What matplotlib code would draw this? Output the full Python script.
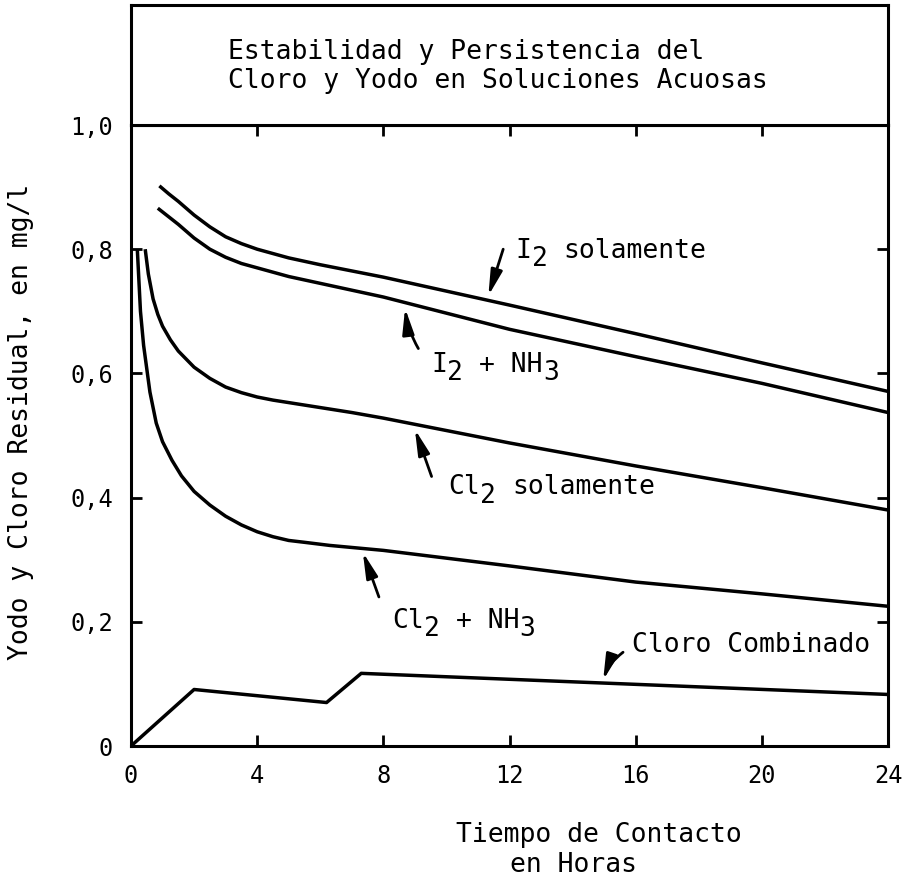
import matplotlib
matplotlib.use("Agg")
import matplotlib.pyplot as plt

plt.rcParams['font.family'] = ['DejaVu Sans Mono', 'DejaVu Sans']

# ---- data ----
i2_sol_x = [0.9, 1.2, 1.5, 2.0, 2.5, 3.0, 3.5, 4.0, 5.0, 6.0, 7.0, 8.0, 12.0, 16.0, 20.0, 24.0]
i2_sol_y = [0.902, 0.889, 0.877, 0.855, 0.836, 0.820, 0.809, 0.800, 0.786, 0.775, 0.765, 0.755,
            0.710, 0.664, 0.617, 0.571]

i2_nh3_x = [0.85, 1.2, 1.5, 2.0, 2.5, 3.0, 3.5, 4.0, 5.0, 6.0, 7.0, 8.0, 12.0, 16.0, 20.0, 24.0]
i2_nh3_y = [0.866, 0.852, 0.840, 0.818, 0.800, 0.787, 0.777, 0.770, 0.756, 0.745, 0.734, 0.723,
            0.671, 0.627, 0.584, 0.537]

cl2_sol_x = [0.45, 0.55, 0.7, 0.85, 1.0, 1.25, 1.5, 2.0, 2.5, 3.0, 3.5, 4.0, 4.5, 5.0, 6.0, 7.0,
             8.0, 12.0, 16.0, 20.0, 24.0]
cl2_sol_y = [0.800, 0.760, 0.720, 0.695, 0.676, 0.654, 0.636, 0.610, 0.592, 0.578, 0.569, 0.562,
             0.557, 0.553, 0.545, 0.537, 0.528, 0.488, 0.451, 0.416, 0.380]

cl2_nh3_x = [0.2, 0.3, 0.4, 0.6, 0.8, 1.0, 1.3, 1.6, 2.0, 2.5, 3.0, 3.5, 4.0, 4.5, 5.0, 5.5, 6.3,
             8.0, 12.0, 16.0, 20.0, 24.0]
cl2_nh3_y = [0.800, 0.700, 0.645, 0.570, 0.520, 0.490, 0.460, 0.435, 0.410, 0.388, 0.370, 0.356,
             0.345, 0.337, 0.331, 0.328, 0.323, 0.315, 0.290, 0.264, 0.245, 0.225]

comb_x = [0.0, 2.0, 6.2, 7.3, 24.0]
comb_y = [0.0, 0.091, 0.070, 0.117, 0.083]

x_ticks = [0, 4, 8, 12, 16, 20, 24]
x_ticklabels = ['0', '4', '8', '12', '16', '20', '24']
y_ticks = [0, 0.2, 0.4, 0.6, 0.8, 1.0]
y_ticklabels = ['0', '0,2', '0,4', '0,6', '0,8', '1,0']

title_lines = ['Estabilidad y Persistencia del', 'Cloro y Yodo en Soluciones Acuosas']
ylabel = 'Yodo y Cloro Residual, en mg/l'
xlabel_lines = ['Tiempo de Contacto', 'en Horas']

FS = 19
MONO_ADV = 0.602

fig = plt.figure(figsize=(9.02, 8.77), dpi=100)
W, H = 902.0, 877.0
L, R, T1, B = 131, 888, 125, 746
ax = fig.add_axes([L / W, (H - B) / H, (R - L) / W, (B - T1) / H])
tax = fig.add_axes([L / W, (H - T1) / H, (R - L) / W, (T1 - 5) / H])

lw = 2.5
for xs, ys in [(i2_sol_x, i2_sol_y), (i2_nh3_x, i2_nh3_y), (cl2_sol_x, cl2_sol_y),
               (cl2_nh3_x, cl2_nh3_y), (comb_x, comb_y)]:
    ax.plot(xs, ys, color='black', lw=lw, solid_joinstyle='round', solid_capstyle='butt')

ax.set_xlim(0, 24)
ax.set_ylim(0, 1.0)
ax.set_xticks(x_ticks)
ax.set_xticklabels(x_ticklabels)
ax.set_yticks(y_ticks)
ax.set_yticklabels(y_ticklabels)
ax.tick_params(direction='in', length=8, width=2, top=True, right=True,
               labelsize=17, pad=13, labeltop=False, labelright=False)
for s in ax.spines.values():
    s.set_linewidth(2.2)

tax.set_xticks([])
tax.set_yticks([])
for s in tax.spines.values():
    s.set_linewidth(2.2)

# title inside the box
tx = (228 - L) / (R - L)
tax.text(tx, (T1 - 59) / (T1 - 5), title_lines[0], transform=tax.transAxes,
         ha='left', va='baseline', fontsize=FS)
tax.text(tx, (T1 - 88) / (T1 - 5), title_lines[1], transform=tax.transAxes,
         ha='left', va='baseline', fontsize=FS)

fig.text(21 / W, (H - 422) / H, ylabel, rotation=90, ha='center', va='center', fontsize=FS)
fig.text(456 / W, (H - 842) / H, xlabel_lines[0], ha='left', va='baseline', fontsize=FS)
fig.text(510 / W, (H - 872) / H, xlabel_lines[1], ha='left', va='baseline', fontsize=FS)


def mono_label(x, y, parts, fs=FS):
    adv = MONO_ADV * fs
    i = 0
    for s, dy in parts:
        stripped = s.lstrip(' ')
        i += len(s) - len(stripped)
        ax.annotate(stripped, xy=(x, y), xytext=(i * adv, dy), textcoords='offset points',
                    ha='left', va='baseline', fontsize=fs, annotation_clip=False)
        i += len(stripped)


SUB = -6
mono_label(12.2, 0.786, [('I', 0), ('2', SUB), (' solamente', 0)])
mono_label(9.53, 0.602, [('I', 0), ('2', SUB), (' + NH', 0), ('3', SUB)])
mono_label(10.06, 0.405, [('Cl', 0), ('2', SUB), (' solamente', 0)])
mono_label(8.28, 0.190, [('Cl', 0), ('2', SUB), (' + NH', 0), ('3', SUB)])
mono_label(15.87, 0.151, [('Cloro Combinado', 0)])


def arrow(tail, tip, rad=0.0):
    ax.annotate('', xy=tip, xytext=tail,
                arrowprops=dict(arrowstyle='-|>,head_length=1.1,head_width=0.25',
                                mutation_scale=14, lw=2, color='black',
                                shrinkA=0, shrinkB=0,
                                connectionstyle='arc3,rad=%g' % rad))


arrow((11.8, 0.800), (11.33, 0.725))
arrow((9.11, 0.640), (8.69, 0.705), rad=-0.1)
arrow((9.53, 0.434), (9.0, 0.510))
arrow((7.86, 0.240), (7.35, 0.312))
arrow((15.6, 0.151), (14.97, 0.106), rad=0.15)

fig.savefig('out.png', dpi=100)
